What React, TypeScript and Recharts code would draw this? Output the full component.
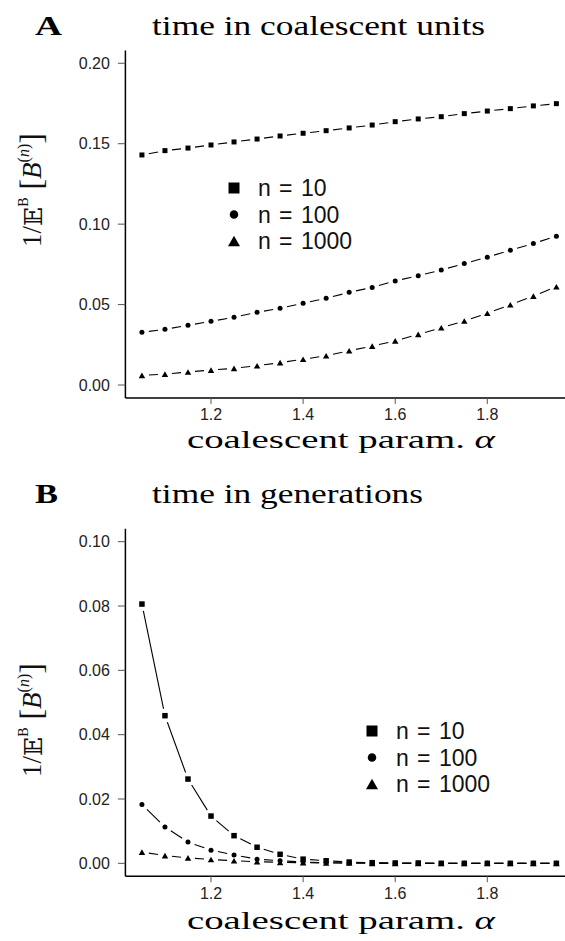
import React from 'react';
import { LineChart, Line, XAxis, YAxis, Legend } from 'recharts';

const alpha = [1.05, 1.1, 1.15, 1.2, 1.25, 1.3, 1.35, 1.4, 1.45, 1.5, 1.55, 1.6, 1.65, 1.7, 1.75, 1.8, 1.85, 1.9, 1.95];

const topN10 = [0.143, 0.1457, 0.1473, 0.1492, 0.1511, 0.1529, 0.1548, 0.1565, 0.1581, 0.1598, 0.1616, 0.1637, 0.1654, 0.1668, 0.1687, 0.1703, 0.1718, 0.1735, 0.1749];
const topN100 = [0.0328, 0.0346, 0.0371, 0.0396, 0.0421, 0.0452, 0.0477, 0.0508, 0.0539, 0.0576, 0.0607, 0.0647, 0.068, 0.0715, 0.0755, 0.0795, 0.0838, 0.088, 0.0925];
const topN1000 = [0.006, 0.0068, 0.0081, 0.0093, 0.0104, 0.012, 0.0139, 0.016, 0.0182, 0.0213, 0.0242, 0.0274, 0.0315, 0.0356, 0.0398, 0.0446, 0.0499, 0.0553, 0.0611];

const botN10 = [0.0806, 0.0459, 0.0262, 0.0147, 0.0086, 0.005, 0.0028, 0.0013, 0.0008, 0.0004, 0.0002, 0.0001, 0.0001, 0.0, 0.0, 0.0, 0.0, 0.0, 0.0];
const botN100 = [0.0183, 0.0113, 0.0066, 0.0041, 0.0026, 0.0013, 0.0008, 0.0004, 0.0002, 0.0001, 0.0001, 0.0, 0.0, 0.0, 0.0, 0.0, 0.0, 0.0, 0.0];
const botN1000 = [0.0035, 0.0024, 0.0017, 0.0012, 0.0008, 0.0005, 0.0003, 0.0002, 0.0001, 0.0001, 0.0, 0.0, 0.0, 0.0, 0.0, 0.0, 0.0, 0.0, 0.0];

const xTicks = [1.2, 1.4, 1.6, 1.8];
const topYTicks = [0, 0.05, 0.1, 0.15, 0.2];
const botYTicks = [0, 0.02, 0.04, 0.06, 0.08, 0.1];
const seriesNs = ['10', '100', '1000'];
const seriesLabels = seriesNs.map((n) => `n = ${n}`);

const topData = alpha.map((a, i) => ({ alpha: a, n10: topN10[i], n100: topN100[i], n1000: topN1000[i] }));
const botData = alpha.map((a, i) => ({ alpha: a, n10: botN10[i], n100: botN100[i], n1000: botN1000[i] }));

type Shape = 'square' | 'circle' | 'triangle';

function Marker({ shape, x, y, s }: { shape: Shape; x: number; y: number; s: number }) {
  if (shape === 'square') return <rect x={x - s / 2} y={y - s / 2} width={s} height={s} fill="#000" />;
  if (shape === 'circle') return <circle cx={x} cy={y} r={s / 2} fill="#000" />;
  const h = s * 0.87;
  return <polygon points={`${x - s / 2},${y + h / 2} ${x + s / 2},${y + h / 2} ${x},${y - h / 2}`} fill="#000" />;
}

function makeDot(shape: Shape, size: number, gap: number) {
  return (props: any) => {
    const { cx, cy, index, points } = props;
    if (cx == null || cy == null) return <g key={`d-${index}`} />;
    let seg: React.ReactNode = null;
    if (points && index < points.length - 1) {
      const n = points[index + 1];
      const dx = n.x - cx;
      const dy = n.y - cy;
      const len = Math.hypot(dx, dy);
      if (len > 2 * gap) {
        const ux = dx / len;
        const uy = dy / len;
        seg = <line x1={cx + ux * gap} y1={cy + uy * gap} x2={n.x - ux * gap} y2={n.y - uy * gap} stroke="#000" strokeWidth={1.1} />;
      }
    }
    return (
      <g key={`d-${index}`}>
        {seg}
        <Marker shape={shape} x={cx} y={cy} s={size} />
      </g>
    );
  };
}

const shapes: Shape[] = ['square', 'circle', 'triangle'];
const legendSizes = [11, 8.5, 12];
const sans = "'Liberation Sans', Arial, sans-serif";

function LegendBox() {
  return (
    <svg width={160} height={80} style={{ display: 'block' }}>
      {seriesNs.map((n, i) => (
        <g key={n}>
          <Marker shape={shapes[i]} x={12} y={12 + i * 26.5} s={legendSizes[i]} />
          <text y={20 + i * 26.5} fontSize={23} fontFamily={sans} fill="#111">
            <tspan x={36}>n</tspan>
            <tspan x={57}>=</tspan>
            <tspan x={79}>{n}</tspan>
          </text>
        </g>
      ))}
    </svg>
  );
}

const tickFont = { fontSize: 16, fontFamily: sans, fill: '#222' };
const xDomain: [number, number] = [1.0141, 1.9687];

function Panel({ data, yDomain, yTicks, marginTop, marginBottom, height, legendPos, dotSizes }: any) {
  return (
    <LineChart width={565} height={height} data={data} margin={{ top: marginTop, right: 0, left: 0, bottom: marginBottom }}>
      <XAxis
        type="number"
        dataKey="alpha"
        domain={xDomain}
        allowDataOverflow
        ticks={xTicks}
        tickFormatter={(v: number) => v.toFixed(1)}
        axisLine={{ stroke: '#000', strokeWidth: 1.5 }}
        tickLine={{ stroke: '#555' }}
        tickSize={6}
        tickMargin={5}
        tick={tickFont}
        height={30}
      />
      <YAxis
        type="number"
        domain={yDomain}
        allowDataOverflow
        ticks={yTicks}
        tickFormatter={(v: number) => v.toFixed(2)}
        axisLine={{ stroke: '#000', strokeWidth: 1.5 }}
        tickLine={{ stroke: '#555' }}
        tickSize={7.5}
        tickMargin={8}
        tick={tickFont}
        width={125.4}
      />
      <Legend
        layout="vertical"
        align="center"
        verticalAlign="middle"
        wrapperStyle={{ position: 'absolute', left: legendPos[0], top: legendPos[1], width: 160, height: 80 }}
        content={() => <LegendBox />}
      />
      {(['n10', 'n100', 'n1000'] as const).map((k, i) => (
        <Line
          key={k}
          dataKey={k}
          name={seriesLabels[i]}
          stroke="none"
          isAnimationActive={false}
          dot={makeDot(shapes[i], dotSizes[i], 7)}
          activeDot={false}
        />
      ))}
    </LineChart>
  );
}

const serif = "'Liberation Serif', 'Times New Roman', serif";

function YLabel({ cx, cy }: { cx: number; cy: number }) {
  return (
    <text transform={`translate(${cx},${cy}) rotate(-90)`} textAnchor="middle" fontFamily={serif} fontSize={27} fill="#111" dominantBaseline="middle">
      <tspan>1/</tspan>
      <tspan fontFamily="'DejaVu Serif', 'DejaVu Sans', serif" fontSize={25}>𝔼</tspan>
      <tspan fontSize={14} dy={-10}>B</tspan>
      <tspan dy={10} fontSize={32}> [</tspan>
      <tspan fontStyle="italic">B</tspan>
      <tspan fontSize={16} dy={-10}>(</tspan>
      <tspan fontSize={16} fontStyle="italic">n</tspan>
      <tspan fontSize={16}>)</tspan>
      <tspan dy={10} fontSize={32}>]</tspan>
    </text>
  );
}

export default function App() {
  return (
    <div style={{ position: 'absolute', left: 0, top: 0, width: 565, height: 941, background: '#fff', overflow: 'hidden' }}>
      <div style={{ position: 'absolute', left: 0, top: 0 }}>
        <Panel
          data={topData}
          yDomain={[-0.008, 0.208]}
          yTicks={topYTicks}
          marginTop={50.4}
          marginBottom={42.1}
          height={470}
          legendPos={[222, 176]}
          dotSizes={[5, 5, 6.5]}
        />
      </div>
      <div style={{ position: 'absolute', left: 0, top: 470 }}>
        <Panel
          data={botData}
          yDomain={[-0.004, 0.104]}
          yTicks={botYTicks}
          marginTop={58.8}
          marginBottom={34.8}
          height={471}
          legendPos={[360, 249]}
          dotSizes={[5.5, 5, 6.5]}
        />
      </div>
      <svg width={565} height={941} style={{ position: 'absolute', left: 0, top: 0, pointerEvents: 'none' }}>
        <text x={35} y={35} fontFamily={serif} fontWeight="bold" fontSize={27} fill="#000" textLength={27} lengthAdjust="spacingAndGlyphs">A</text>
        <text x={152} y={35} fontFamily={serif} fontSize={28} fill="#000" textLength={333} lengthAdjust="spacingAndGlyphs">time in coalescent units</text>
        <text x={35} y={503} fontFamily={serif} fontWeight="bold" fontSize={27} fill="#000" textLength={23} lengthAdjust="spacingAndGlyphs">B</text>
        <text x={152} y={503} fontFamily={serif} fontSize={28} fill="#000" textLength={271} lengthAdjust="spacingAndGlyphs">time in generations</text>
        <text x={187} y={448} fontFamily={serif} fontSize={25} fill="#000" textLength={308} lengthAdjust="spacingAndGlyphs">
          coalescent param. <tspan fontStyle="italic">α</tspan>
        </text>
        <text x={187} y={929} fontFamily={serif} fontSize={25} fill="#000" textLength={308} lengthAdjust="spacingAndGlyphs">
          coalescent param. <tspan fontStyle="italic">α</tspan>
        </text>
        <YLabel cx={35} cy={190} />
        <YLabel cx={35} cy={720} />
      </svg>
    </div>
  );
}
